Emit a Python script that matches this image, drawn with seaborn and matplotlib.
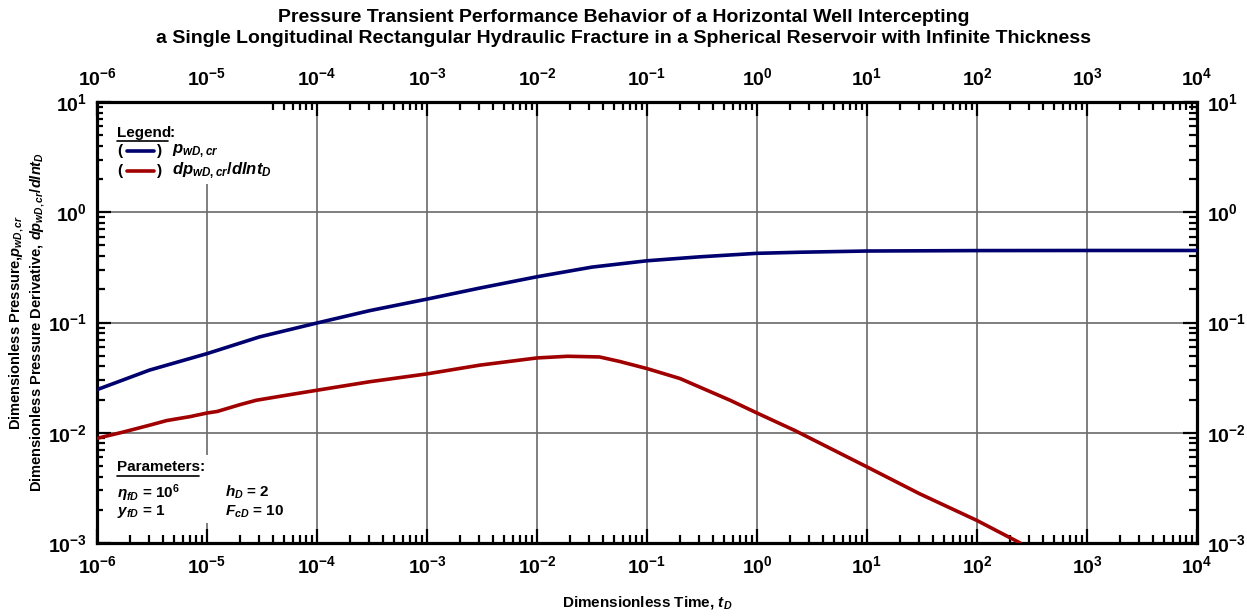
import numpy as np
import pandas as pd
import matplotlib
matplotlib.use("Agg")
import matplotlib.pyplot as plt
import seaborn as sns
from matplotlib.patches import Rectangle
from matplotlib.lines import Line2D
from matplotlib.ticker import LogLocator, NullFormatter

# ---- data ----
t_p = [1e-6, 3e-6, 1e-5, 3e-5, 1e-4, 3e-4, 1e-3, 3e-3, 1e-2, 3.16e-2, 1e-1, 3e-1, 1e0, 2.5e0, 1e1, 1e2, 1e3, 1e4]
p_wD = [0.0246, 0.0370, 0.0522, 0.0740, 0.0990, 0.128, 0.163, 0.205, 0.260, 0.318, 0.363, 0.394, 0.424, 0.434, 0.445, 0.449, 0.450, 0.450]

t_d = [1e-6, 1.7e-6, 3e-6, 4.3e-6, 7e-6, 1e-5, 1.24e-5, 2e-5, 2.8e-5, 5e-5, 1e-4, 3e-4, 1e-3, 3e-3, 1e-2, 1.9e-2, 3.7e-2, 5.6e-2,
       1e-1, 2e-1, 3e-1, 5.7e-1, 1e0, 2.2e0, 1e1, 3e1, 1e2, 2.47e2]
dp_wD = [0.0089, 0.0101, 0.0117, 0.0129, 0.0140, 0.0151, 0.0156, 0.0180, 0.0197, 0.0217, 0.0243, 0.0290, 0.0342, 0.0410, 0.0477, 0.0494, 0.0487, 0.0444,
         0.0382, 0.0310, 0.0260, 0.0197, 0.0151, 0.0105, 0.0049, 0.0028, 0.0016, 0.0010]

x_ticks = [1e-6, 1e-5, 1e-4, 1e-3, 1e-2, 1e-1, 1e0, 1e1, 1e2, 1e3, 1e4]
y_ticks = [1e-3, 1e-2, 1e-1, 1e0, 1e1]

series_names = ["p", "dp"]
colors = ["#00006E", "#A00000"]

df = pd.concat([
    pd.DataFrame({"t": t_p, "v": p_wD, "s": series_names[0]}),
    pd.DataFrame({"t": t_d, "v": dp_wD, "s": series_names[1]}),
])

sns.set_theme(style="ticks")
plt.rcParams["font.family"] = ["Liberation Sans", "DejaVu Sans"]
plt.rcParams["font.weight"] = "bold"
plt.rcParams["axes.unicode_minus"] = False
plt.rcParams["mathtext.fontset"] = "custom"
plt.rcParams["mathtext.rm"] = "Liberation Sans:bold"
plt.rcParams["mathtext.it"] = "Liberation Sans:italic:bold"
plt.rcParams["mathtext.bf"] = "Liberation Sans:bold"
for k in ["text.color", "axes.labelcolor", "xtick.color", "ytick.color",
          "xtick.labelcolor", "ytick.labelcolor", "axes.edgecolor"]:
    plt.rcParams[k] = "black"

fig = plt.figure(figsize=(12.47, 6.16), dpi=100)
ax = fig.add_axes([97 / 1247, (616 - 543) / 616, 1100 / 1247, 441 / 616])

sns.lineplot(data=df, x="t", y="v", hue="s", palette=dict(zip(series_names, colors)),
             linewidth=2.6, ax=ax, legend=False, zorder=4, sort=True)

ax.set_xscale("log")
ax.set_yscale("log")
ax.set_xlim(1e-6, 1e4)
ax.set_ylim(1e-3, 1e1)
ax.set_xticks(x_ticks)
ax.set_yticks(y_ticks)
ax.xaxis.set_minor_locator(LogLocator(base=10, subs=np.arange(2, 10), numticks=100))
ax.yaxis.set_minor_locator(LogLocator(base=10, subs=np.arange(2, 10), numticks=100))
ax.xaxis.set_minor_formatter(NullFormatter())
ax.yaxis.set_minor_formatter(NullFormatter())

ax.set_axisbelow(True)
ax.grid(True, which="major", color="#6a6a6a", linewidth=1.2)

for sp in ax.spines.values():
    sp.set_linewidth(2.3)
    sp.set_visible(True)
    sp.set_color("black")

ax.tick_params(which="both", direction="in", top=True, right=True,
               labeltop=True, labelright=True, color="black", labelcolor="black")
ax.tick_params(which="major", length=10, width=1.6, labelsize=14)
ax.tick_params(which="minor", length=5.5, width=1.6)
ax.xaxis.set_tick_params(which="major", pad=9)
ax.yaxis.set_tick_params(which="major", pad=7)
for lab in ax.get_xticklabels() + ax.get_yticklabels():
    lab.set_fontweight("bold")

ax.set_xlabel("Dimensionless Time, $t_D$", fontsize=11, fontweight="bold", labelpad=12, color="black")
ax.set_ylabel("Dimensionless Pressure,$p_{wD,cr}$\nDimensionless Pressure Derivative, $dp_{wD,cr}/dlnt_D$",
              fontsize=10.5, fontweight="bold", linespacing=1.25, multialignment="center", color="black")
ax.yaxis.set_label_coords(-0.045, 0.5)

fig.suptitle("Pressure Transient Performance Behavior of a Horizontal Well Intercepting\n"
             "a Single Longitudinal Rectangular Hydraulic Fracture in a Spherical Reservoir with Infinite Thickness",
             fontsize=14, fontweight="bold", y=0.985, linespacing=1.3, color="black")

# white boxes behind annotations (cover grid)
ax.add_patch(Rectangle((0.005, 0.815), 0.15, 0.18, transform=ax.transAxes,
                       facecolor="white", edgecolor="none", zorder=1.5))
ax.add_patch(Rectangle((0.005, 0.045), 0.19, 0.155, transform=ax.transAxes,
                       facecolor="white", edgecolor="none", zorder=1.5))

fs = 11
ax.text(0.018, 0.93, "Legend", transform=ax.transAxes, fontsize=fs, fontweight="bold",
        va="center", ha="left", zorder=5)
ax.text(0.0655, 0.93, ":", transform=ax.transAxes, fontsize=fs, fontweight="bold",
        va="center", ha="left", zorder=5)
ax.plot([0.0185, 0.0645], [0.912, 0.912], transform=ax.transAxes, color="black", lw=1.2, zorder=5)

rows = [(0.889, colors[0], "$p_{wD,cr}$"), (0.844, colors[1], "$dp_{wD,cr}/dlnt_D$")]
for yy, c, lab in rows:
    ax.text(0.018, yy, "(", transform=ax.transAxes, fontsize=fs, fontweight="bold", va="center", ha="left", zorder=5)
    ax.add_line(Line2D([0.027, 0.052], [yy, yy], transform=ax.transAxes, color=c, lw=2.6, zorder=5))
    ax.text(0.0545, yy, ")", transform=ax.transAxes, fontsize=fs, fontweight="bold", va="center", ha="left", zorder=5)
    ax.text(0.068, yy, lab, transform=ax.transAxes, fontsize=fs + 1, va="center", ha="left", zorder=5)

ax.text(0.018, 0.172, "Parameters", transform=ax.transAxes, fontsize=fs, fontweight="bold",
        va="center", ha="left", zorder=5)
ax.text(0.0935, 0.172, ":", transform=ax.transAxes, fontsize=fs, fontweight="bold",
        va="center", ha="left", zorder=5)
ax.plot([0.0185, 0.0925], [0.153, 0.153], transform=ax.transAxes, color="black", lw=1.2, zorder=5)

params = [(0.018, 0.114, r"$\eta_{fD}$ = 10$^{6}$"), (0.116, 0.114, "$h_D$ = 2"),
          (0.018, 0.071, "$y_{fD}$ = 1"), (0.116, 0.071, "$F_{cD}$ = 10")]
for xx, yy, s in params:
    ax.text(xx, yy, s, transform=ax.transAxes, fontsize=fs, fontweight="bold",
            va="center", ha="left", zorder=5)

fig.savefig("out.png", dpi=100)
